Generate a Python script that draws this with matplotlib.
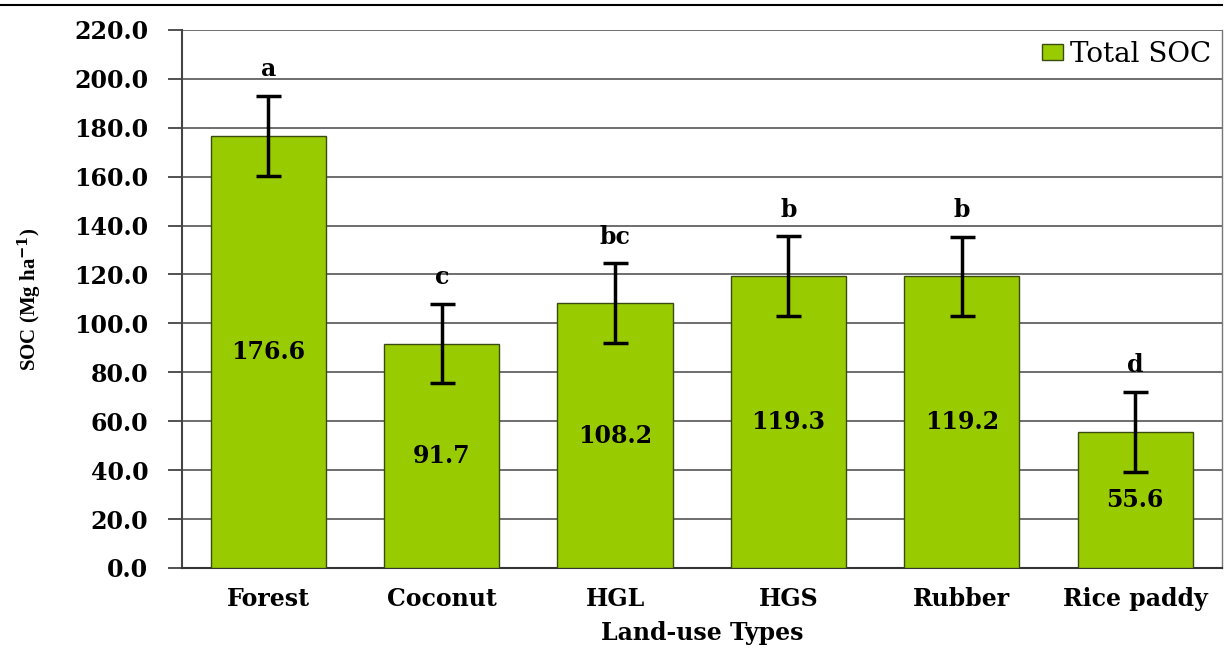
import matplotlib
matplotlib.use("Agg")
import matplotlib.pyplot as plt
from matplotlib.lines import Line2D
import numpy as np

categories = ["Forest", "Coconut", "HGL", "HGS", "Rubber", "Rice paddy"]
soc_values = [176.6, 91.7, 108.2, 119.3, 119.2, 55.6]
soc_errors = [16.3, 16.2, 16.3, 16.3, 16.3, 16.3]
sig_letters = ["a", "c", "bc", "b", "b", "d"]
y_ticks = [0, 20, 40, 60, 80, 100, 120, 140, 160, 180, 200, 220]

plt.rcParams['font.family'] = ['DejaVu Serif']
plt.rcParams['mathtext.fontset'] = 'dejavuserif'

fig = plt.figure(figsize=(12.28, 6.48), dpi=100)
ax = fig.add_axes([0.148, 0.1235, 0.847, 0.8305])

x = np.arange(len(categories))
ax.bar(x, soc_values, width=0.665, color="#99CC00", edgecolor="#3a4a10",
       linewidth=1.0, zorder=3, label="Total SOC")
ax.errorbar(x, soc_values, yerr=soc_errors, fmt="none", ecolor="black",
            elinewidth=2.5, capsize=9, capthick=2.5, zorder=4)

for xi, v, e, lt in zip(x, soc_values, soc_errors, sig_letters):
    ax.text(xi, v / 2, f"{v:.1f}", ha="center", va="center",
            fontsize=17, fontweight="bold", zorder=5)
    ax.text(xi, v + e + 6, lt, ha="center", va="bottom",
            fontsize=17, fontweight="bold", zorder=5)

ax.set_xlim(-0.5, len(categories) - 0.5)
ax.set_ylim(0, 220)
ax.set_yticks(y_ticks)
ax.set_yticklabels([f"{t:.1f}" for t in y_ticks], fontsize=17, fontweight="bold")
ax.set_xticks(x)
ax.set_xticklabels(categories, fontsize=17, fontweight="bold")
ax.tick_params(axis="x", length=0, pad=14)
ax.tick_params(axis="y", length=10, width=1.2, color="#333333", pad=14)

ax.yaxis.grid(True, color="#555555", linewidth=1.2, zorder=0)
ax.set_axisbelow(True)
ax.spines["top"].set_visible(False)
ax.spines["left"].set_color("#444444")
ax.spines["left"].set_linewidth(1.5)
ax.spines["bottom"].set_color("#333333")
ax.spines["bottom"].set_linewidth(1.5)
ax.spines["right"].set_color("#777777")
ax.spines["right"].set_linewidth(1.0)

ax.set_ylabel("SOC (Mg ha$^{\\mathbf{-1}}$)", fontsize=15, fontweight="bold",
              family=["Liberation Serif", "DejaVu Serif"])
ax.yaxis.set_label_coords(-0.132, 0.5)
ax.set_xlabel("Land-use Types", fontsize=17, fontweight="bold")
ax.xaxis.set_label_coords(0.5, -0.098)

leg = ax.legend(loc="upper right", frameon=False, fontsize=20,
                handlelength=0.75, handleheight=0.55, handletextpad=0.25,
                borderaxespad=0.0, bbox_to_anchor=(1.0, 1.0))

fig.add_artist(Line2D([0, 0.995], [0.992, 0.992], color="black", linewidth=1.5,
                      transform=fig.transFigure))

fig.savefig("out.png", dpi=100)
